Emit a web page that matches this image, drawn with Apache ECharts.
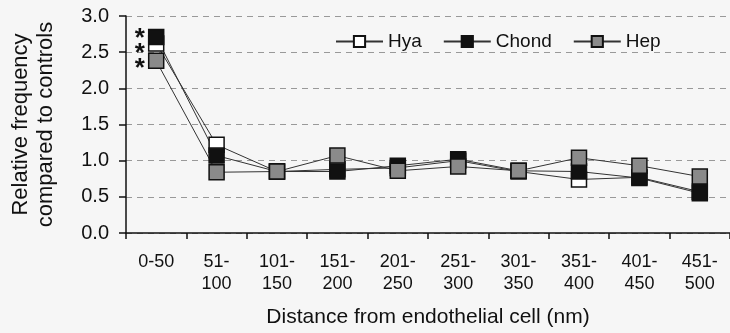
<!DOCTYPE html>
<html>
<head>
<meta charset="utf-8">
<script src="https://cdn.jsdelivr.net/npm/echarts@6/dist/echarts.min.js"></script>
<style>
  html, body { margin: 0; padding: 0; background: #f6f6f6; }
  #chart { width: 730px; height: 333px; }
</style>
</head>
<body>
<div id="chart"></div>
<script>
const categories = ['0-50', '51-\n100', '101-\n150', '151-\n200', '201-\n250', '251-\n300', '301-\n350', '351-\n400', '401-\n450', '451-\n500']
const hya = [2.62, 1.22, 0.85, 0.88, 0.9, 1.0, 0.85, 0.74, 0.77, 0.57]
const chond = [2.71, 1.07, 0.85, 0.85, 0.93, 1.02, 0.86, 0.85, 0.76, 0.55]
const hep = [2.38, 0.84, 0.85, 1.07, 0.86, 0.92, 0.86, 1.04, 0.93, 0.78]
const yTicks = [0, 0.5, 1.0, 1.5, 2.0, 2.5, 3.0]

const chart = echarts.init(document.getElementById('chart'))

const font = 'Liberation Sans, Arial, sans-serif'

// starOffset nudges the asterisk so the three stars stack evenly like the original
function makeSeries(name, data, fill, starOffset) {
  return {
    name: name,
    type: 'line',
    data: data,
    symbol: 'rect',
    symbolSize: 15,
    showAllSymbol: true,
    lineStyle: { color: '#333', width: 1 },
    itemStyle: { color: fill, borderColor: '#111', borderWidth: 1.5 },
    label: {
      show: true,
      position: 'left',
      distance: 3,
      offset: [0, starOffset],
      fontFamily: font,
      fontSize: 26,
      fontWeight: 'bold',
      color: '#111',
      formatter: (p) => (p.dataIndex === 0 ? '*' : '')
    },
    emphasis: { disabled: true }
  }
}

const option = {
  backgroundColor: '#f6f6f6',
  animation: false,
  grid: { left: 120, top: 16, width: 615, height: 219 },
  legend: {
    left: 330,
    top: 27,
    itemWidth: 47,
    itemHeight: 14,
    itemGap: 21,
    textStyle: { fontFamily: font, fontSize: 19, color: '#111' },
    data: ['Hya', 'Chond', 'Hep']
  },
  xAxis: {
    type: 'category',
    data: categories,
    boundaryGap: true,
    name: 'Distance from endothelial cell (nm)',
    nameLocation: 'middle',
    nameGap: 74,
    nameTextStyle: { fontFamily: font, fontSize: 21, color: '#111' },
    axisLine: { lineStyle: { color: '#111', width: 1.5 } },
    axisTick: { show: true, length: 6, lineStyle: { color: '#111', width: 1.5 } },
    axisLabel: { fontFamily: font, fontSize: 18, color: '#111', margin: 18, lineHeight: 22, interval: 0 }
  },
  yAxis: {
    type: 'value',
    min: 0,
    max: 3,
    interval: 0.5,
    name: 'Relative frequency\ncompared to controls',
    nameLocation: 'middle',
    nameGap: 68,
    nameTextStyle: { fontFamily: font, fontSize: 22, color: '#111', lineHeight: 25 },
    axisLine: { show: true, lineStyle: { color: '#111', width: 1.5 } },
    axisTick: { show: true, length: 7, lineStyle: { color: '#111', width: 1.5 } },
    axisLabel: {
      fontFamily: font, fontSize: 20, color: '#111', margin: 17,
      formatter: (v) => (yTicks.includes(v) ? v.toFixed(1) : '')
    },
    splitLine: { show: true, lineStyle: { color: '#999', type: [6, 5], width: 1 } }
  },
  series: [
    makeSeries('Hya', hya, '#ffffff', 10),
    makeSeries('Chond', chond, '#111111', 2),
    makeSeries('Hep', hep, '#8a8a8a', 8)
  ]
}

chart.setOption(option)
</script>
</body>
</html>
